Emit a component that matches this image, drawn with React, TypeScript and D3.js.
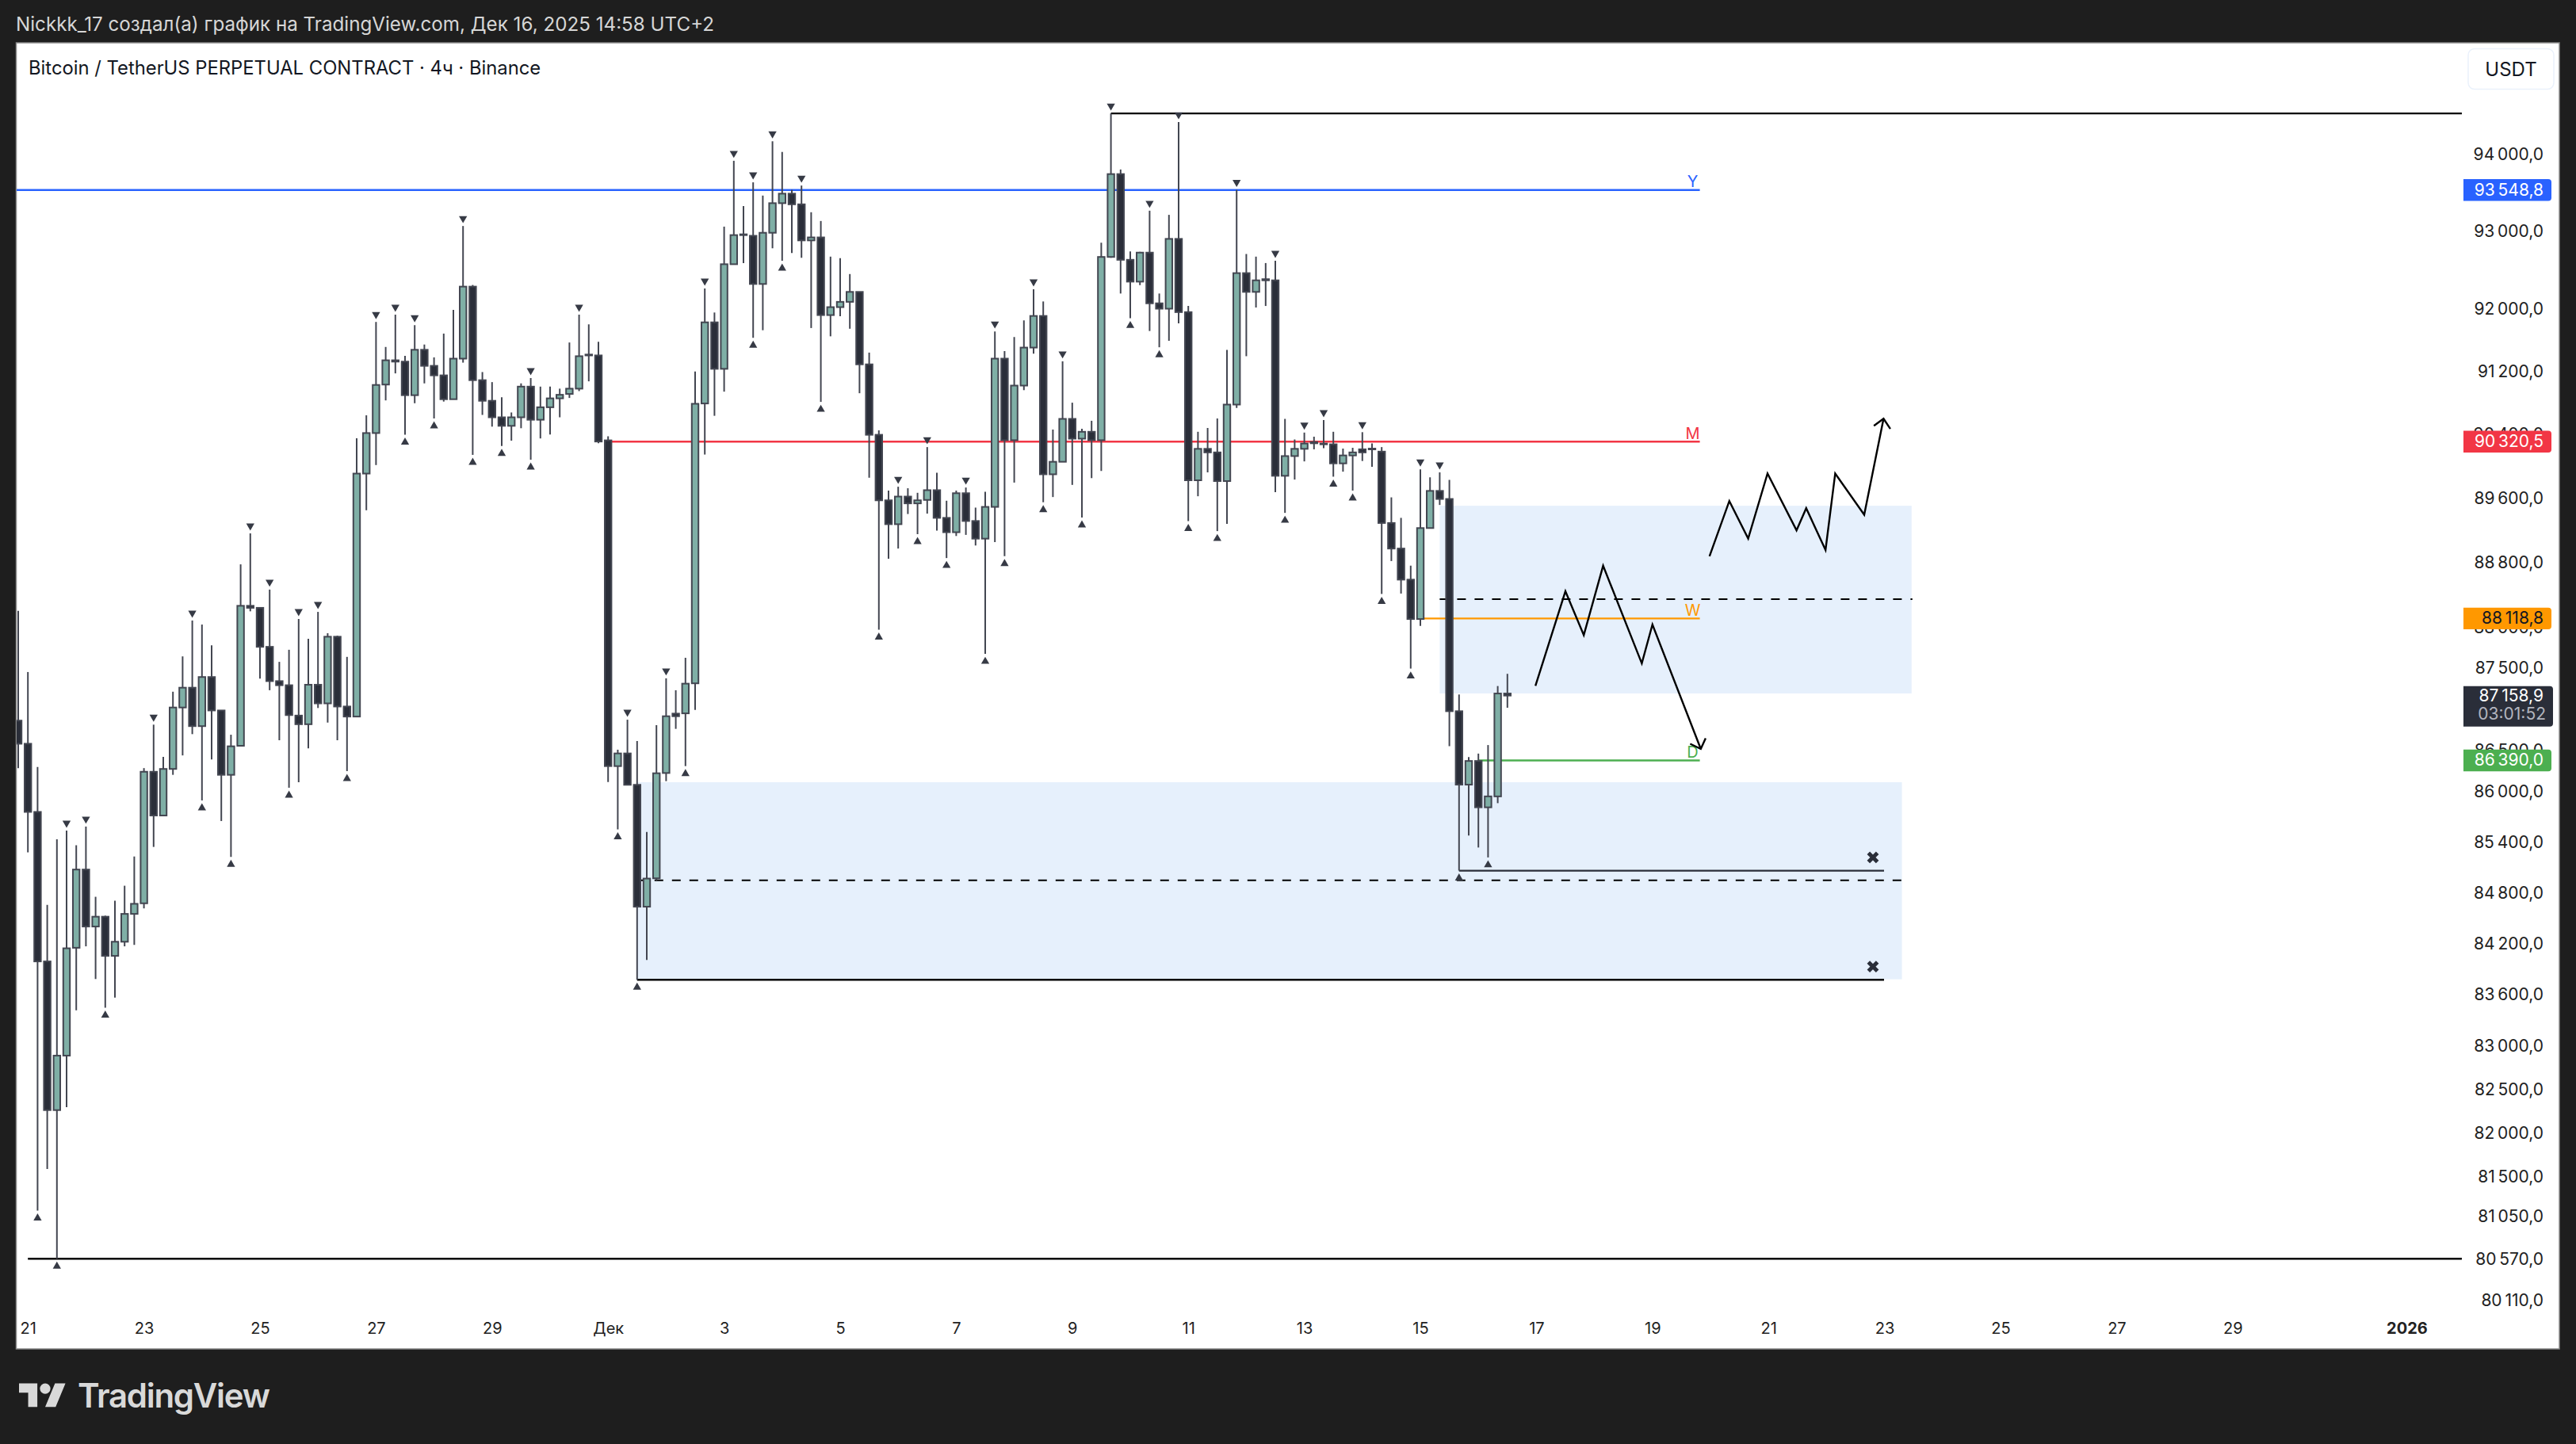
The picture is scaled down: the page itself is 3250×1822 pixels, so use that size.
import { axisBottom, axisLeft, formatLocale, line, scaleLinear, scaleLog, select, symbol, symbolTimes, symbolTriangle } from 'd3';
import React, { useEffect, useRef } from 'react';

const WIDTH = 3250;
const HEIGHT = 1822;
const FONT = 'Inter, Roboto, sans-serif';

// 4h candles, first one is the bar right before Nov 21 00:00
const firstBar = -1;
const opens = [
  86855, 86575, 85755, 83984, 82259, 82887, 84144, 85068, 84394, 84510, 84049, 84215, 84543, 84668, 86237, 85712,
  86271, 87014, 87255, 86788, 87385, 86978, 86200, 86550, 88258, 88233, 87754, 87335, 87285, 86916, 86811, 87291,
  87064, 87878, 87026, 86904, 89902, 90412, 91026, 91335, 91318, 90891, 91469, 91264, 91143, 90840, 91356, 92279,
  91082, 90820, 90611, 90503, 90611, 91000, 90580, 90738, 90851, 90907, 90974, 91408, 91397, 90320, 86305, 86458,
  86080, 84628, 84964, 86222, 86940, 86943, 87308, 90786, 91820, 91226, 92568, 92945, 92936, 92313, 92975, 93360,
  93484, 93345, 92876, 92915, 91913, 92015, 92083, 92211, 91283, 90390, 89567, 89269, 89614, 89529, 89572, 89694,
  89348, 89169, 89656, 89309, 89089, 89485, 91356, 90322, 91013, 91497, 91902, 89893, 90050, 90591, 90341, 90428,
  90322, 92662, 93740, 92625, 92343, 92718, 92064, 91995, 92896, 91951, 89818, 90213, 90168, 89808, 90772, 92453,
  92211, 92375, 92360, 89874, 90122, 90213, 90298, 90280, 90270, 90030, 90130, 90207, 90216, 90178, 89284, 88966,
  88581, 88095, 89221, 89685, 89584, 86969, 86082, 86367, 85810, 85941, 87184,
];
const highs = [
  88196, 87446, 86294, 84650, 85429, 85532, 85357, 85580, 84745, 84522, 84698, 84876, 85223, 86281, 86806, 86416,
  87206, 87637, 88077, 88027, 87773, 86978, 86684, 88770, 89155, 88233, 88458, 87570, 87718, 88096, 87853, 88183,
  87921, 87891, 87631, 90345, 90636, 91825, 91505, 91919, 91392, 91784, 91536, 91372, 91676, 91981, 93063, 92300,
  91185, 91057, 90866, 90672, 91041, 91109, 91000, 91000, 90974, 91562, 91919, 91794, 91572, 90370, 86503, 86866,
  86608, 85515, 86800, 87369, 87224, 87620, 91191, 92255, 91946, 93055, 93914, 93323, 93632, 93459, 94170, 94030,
  93535, 93590, 93242, 93128, 92666, 92646, 92441, 92211, 91433, 90446, 89689, 89737, 89718, 89661, 90235, 89912,
  89562, 89689, 89727, 89476, 89675, 91704, 91453, 91632, 91845, 92245, 92088, 90456, 91322, 90796, 90466, 90567,
  92847, 94537, 93800, 92733, 92728, 93262, 92190, 93208, 94422, 92031, 90428, 90476, 90596, 91468, 93535, 92700,
  92666, 92583, 92612, 90591, 90331, 90418, 90366, 90576, 90428, 90216, 90226, 90423, 90280, 90235, 89604, 89348,
  88754, 89954, 89855, 89917, 89822, 87172, 86414, 86456, 86559, 87275, 87424,
];
const lows = [
  86281, 85272, 81113, 81586, 80570, 82293, 83413, 84161, 83778, 83443, 83560, 84161, 84178, 84608, 85337, 85712,
  86200, 86434, 86691, 85893, 86386, 85646, 85218, 86550, 88190, 87366, 87224, 86617, 86045, 86111, 86519, 87008,
  86831, 86617, 86245, 86904, 89443, 90009, 90825, 91168, 90391, 90789, 91041, 90596, 90810, 90840, 91305, 90137,
  90641, 90493, 90248, 90316, 90473, 90076, 90344, 90394, 90611, 90856, 90943, 91067, 90283, 86114, 85546, 86080,
  83769, 84000, 84940, 86124, 86755, 86305, 86985, 90141, 90630, 90936, 92568, 92583, 91622, 91719, 92774, 92612,
  92714, 92651, 91747, 90806, 91641, 91898, 91738, 90916, 89850, 87964, 88839, 88966, 89396, 89145, 89401, 89188,
  88848, 89122, 89136, 89004, 87667, 89046, 88871, 89789, 90955, 91419, 89543, 89608, 90050, 89760, 89353, 89845,
  89935, 92651, 92190, 91874, 92298, 91709, 91501, 91584, 91806, 89307, 89618, 89917, 89183, 89272, 90729, 91387,
  92010, 92030, 89670, 89410, 89827, 90055, 90207, 90221, 89863, 89926, 89689, 90060, 89988, 88404, 88811, 88409,
  87488, 88011, 89221, 89509, 86545, 85055, 85473, 85330, 85212, 85860, 87011,
];
const closes = [
  86575, 85755, 83984, 82259, 82887, 84138, 85068, 84394, 84510, 84049, 84215, 84543, 84662, 86237, 85712, 86271,
  87014, 87255, 86788, 87385, 86978, 86200, 86544, 88258, 88233, 87754, 87335, 87285, 86922, 86811, 87291, 87064,
  87878, 87026, 86904, 89902, 90412, 91021, 91335, 91318, 90891, 91469, 91264, 91143, 90840, 91356, 92279, 91082,
  90820, 90611, 90503, 90611, 91000, 90580, 90738, 90851, 90896, 90974, 91387, 91397, 90305, 86305, 86458, 86080,
  84628, 84961, 86219, 86908, 86908, 87304, 90782, 91820, 91226, 92568, 92945, 92955, 92313, 92975, 93360, 93484,
  93345, 92876, 92915, 91913, 92015, 92083, 92211, 91283, 90390, 89567, 89269, 89614, 89529, 89567, 89694, 89348,
  89169, 89656, 89309, 89089, 89485, 91356, 90322, 91013, 91497, 91902, 89893, 90050, 90591, 90341, 90428, 90322,
  92662, 93740, 92625, 92343, 92718, 92064, 91995, 92896, 91951, 89818, 90213, 90168, 89808, 90772, 92453, 92211,
  92360, 92360, 89874, 90122, 90213, 90280, 90283, 90270, 90030, 90130, 90168, 90168, 90207, 89284, 88966, 88581,
  88095, 89221, 89685, 89584, 86969, 86082, 86367, 85810, 85941, 87184, 87159,
];

// fractal markers, by bar number
const highMarks = [4, 6, 13, 17, 23, 25, 28, 30, 36, 38, 40, 45, 52, 57, 62, 66, 70, 73, 75, 77, 80, 90, 93, 97, 100, 104, 107, 112, 116, 119, 125, 129, 132, 134, 138, 144, 146];
const lowMarks = [1, 3, 8, 18, 21, 27, 33, 39, 42, 46, 49, 52, 61, 63, 68, 75, 78, 82, 88, 92, 95, 99, 101, 105, 109, 114, 117, 120, 123, 130, 135, 137, 140, 143, 148, 151];

const priceTicks = [94000, 93000, 92000, 91200, 90400, 89600, 88800, 88000, 87500, 86500, 86000, 85400, 84800, 84200, 83600, 83000, 82500, 82000, 81500, 81050, 80570, 80110];
const timeTickBars = [0, 12, 24, 36, 48, 60, 72, 84, 96, 108, 120, 132, 144, 156, 168, 180, 192, 204, 216, 228, 246];
const timeTickLabels = ['21', '23', '25', '27', '29', 'Дек', '3', '5', '7', '9', '11', '13', '15', '17', '19', '21', '23', '25', '27', '29', '2026'];

// key levels: label, price, colour, first bar
const levelNames = ['Y', 'M', 'W', 'D'];
const levelPrices = [93548.8, 90320.5, 88118.8, 86390.0];
const levelColors = ['#2962ff', '#f23645', '#ff9800', '#4caf50'];
const levelStarts = [-2, 60, 144, 150];
const levelEnd = 172.9;
// price line labels sit a touch under the tick text centres
const levelShift = 1.7;

// drawn zones: [bar from, bar to, price top, price bottom, middle price]
const zoneUpper = [146, 194.8, 89499, 87185, 88340];
const zoneLower = [63, 193.8, 86111, 83775, 84941];

// horizontal trend lines: bar from, bar to, price
const trendFrom = [112, 0, 63, 148];
const trendTo = [251.7, 251.7, 191.95, 191.95];
const trendPrice = [94537, 80570, 83769, 85055];
const crossBars = [190.8, 190.8];
const crossPrices = [85212, 83923];

// hand drawn paths
const pathDownBars = [155.9, 159, 160.9, 162.9, 166.9, 168, 173];
const pathDownPrices = [87277, 88437, 87897, 88753, 87551, 88028, 86512];
const headDownBars = [171.9, 173, 173.5];
const headDownPrices = [86574, 86512, 86641];
const pathUpBars = [173.9, 175.95, 177.9, 179.9, 182.9, 183.9, 185.9, 186.9, 189.9, 191.9];
const pathUpPrices = [88870, 89558, 89090, 89903, 89193, 89468, 88948, 89903, 89387, 90594];
const headUpBars = [190.9, 191.9, 192.6];
const headUpPrices = [90504, 90594, 90464];

const lastPrice = 87158.9;
const countdown = '03:01:52';

const locale = formatLocale({ decimal: ',', thousands: '\u2009', grouping: [3], currency: ['', ''] });
const fmt = locale.format(',.1f');

const App = () => {
  const svgRef = useRef<SVGSVGElement | null>(null);

  useEffect(() => {
    const svg = select(svgRef.current);
    svg.selectAll('*').remove();

    const x = scaleLinear().domain([0, 60]).range([35.2, 767.2]);
    const y = scaleLog().domain([80110, 94000]).range([1640, 194.6]);
    const bars = opens.map((o, i) => ({ bar: i + firstBar, o, h: highs[i], l: lows[i], c: closes[i] }));

    // page
    svg.append('rect').attr('width', WIDTH).attr('height', HEIGHT).attr('fill', '#1e1e1e');
    svg.append('text').attr('x', 20).attr('y', 39).attr('fill', '#d6d6d6').attr('font-size', 24.2)
      .text('Nickkk_17 создал(а) график на TradingView.com, Дек 16, 2025 14:58 UTC+2');
    svg.append('rect').attr('x', 20.5).attr('y', 54).attr('width', 3208.5).attr('height', 1648)
      .attr('fill', '#fff').attr('stroke', '#8b8b8b').attr('stroke-width', 1.5);

    const defs = svg.append('defs');
    defs.append('clipPath').attr('id', 'plot').append('rect').attr('x', 21).attr('y', 55).attr('width', 3207).attr('height', 1646);
    const plot = svg.append('g').attr('clip-path', 'url(#plot)');

    // zones
    [zoneUpper, zoneLower].forEach(([a, b, top, bottom]) => {
      plot.append('rect').attr('x', x(a)).attr('width', x(b) - x(a))
        .attr('y', y(top)).attr('height', y(bottom) - y(top)).attr('fill', '#e6f0fc');
    });
    [zoneUpper, zoneLower].forEach(([a, b, , , mid]) => {
      plot.append('line').attr('x1', x(a)).attr('x2', x(b) + 1).attr('y1', y(mid)).attr('y2', y(mid))
        .attr('stroke', '#000').attr('stroke-width', 2).attr('stroke-dasharray', '11 11');
    });

    // levels
    levelPrices.forEach((p, i) => {
      const ly = y(p) + levelShift;
      plot.append('line').attr('x1', x(levelStarts[i])).attr('x2', x(levelEnd)).attr('y1', ly).attr('y2', ly)
        .attr('stroke', levelColors[i]).attr('stroke-width', 2.4);
      plot.append('text').attr('x', x(levelEnd) - 9).attr('y', ly - 3.5).attr('text-anchor', 'middle')
        .attr('fill', levelColors[i]).attr('font-size', 20).text(levelNames[i]);
    });

    // trend lines
    trendPrice.forEach((p, i) => {
      plot.append('line').attr('x1', x(trendFrom[i])).attr('x2', x(trendTo[i])).attr('y1', y(p)).attr('y2', y(p))
        .attr('stroke', i === 3 ? '#2a2e39' : '#000').attr('stroke-width', i === 3 ? 2.2 : 2.4);
    });

    // candles
    const wick = '#434651';
    const candle = plot.selectAll('g.candle').data(bars).join('g').attr('class', 'candle');
    candle.append('line')
      .attr('x1', (d) => x(d.bar)).attr('x2', (d) => x(d.bar))
      .attr('y1', (d) => y(d.h)).attr('y2', (d) => y(d.l))
      .attr('stroke', wick).attr('stroke-width', 2);
    candle.append('rect')
      .attr('x', (d) => x(d.bar) - 4.2).attr('width', 8.4)
      .attr('y', (d) => y(Math.max(d.o, d.c)))
      .attr('height', (d) => Math.max(y(Math.min(d.o, d.c)) - y(Math.max(d.o, d.c)), 1))
      .attr('fill', (d) => (d.c >= d.o ? '#7fafa6' : '#2a2e39'))
      .attr('stroke', wick).attr('stroke-width', 2);

    // fractal markers
    const tri = symbol().type(symbolTriangle).size(46);
    highMarks.forEach((b) => {
      plot.append('path').attr('d', tri())
        .attr('transform', `translate(${x(b)},${y(highs[b - firstBar]) - 9.5}) rotate(180)`).attr('fill', '#363a45');
    });
    lowMarks.forEach((b) => {
      plot.append('path').attr('d', tri())
        .attr('transform', `translate(${x(b)},${y(lows[b - firstBar]) + 9.5})`).attr('fill', '#363a45');
    });

    // crosses
    const cross = symbol().type(symbolTimes).size(85);
    crossBars.forEach((b, i) => {
      plot.append('path').attr('d', cross()).attr('transform', `translate(${x(b)},${y(crossPrices[i])})`)
        .attr('fill', 'none').attr('stroke', '#2a2e39').attr('stroke-width', 5);
    });

    // hand drawn arrows
    const pen = line<[number, number]>().x((d) => x(d[0])).y((d) => y(d[1]));
    const zip = (a: number[], b: number[]) => a.map((v, i): [number, number] => [v, b[i]]);
    [
      zip(pathDownBars, pathDownPrices),
      zip(headDownBars, headDownPrices),
      zip(pathUpBars, pathUpPrices),
      zip(headUpBars, headUpPrices),
    ].forEach((pts) => {
      plot.append('path').attr('d', pen(pts)).attr('fill', 'none').attr('stroke', '#000').attr('stroke-width', 2.4);
    });

    // axes
    const priceAxis = axisLeft(y).tickValues(priceTicks).tickSize(0).tickPadding(0).tickFormat((d) => fmt(d as number));
    const gy = svg.append('g').attr('transform', 'translate(3209,0.6)').call(priceAxis as any);
    gy.select('.domain').remove();
    gy.selectAll('text').attr('font-family', FONT).attr('font-size', 21).attr('fill', '#222');

    const timeAxis = axisBottom(x).tickValues(timeTickBars).tickSize(0).tickPadding(0)
      .tickFormat((d) => timeTickLabels[timeTickBars.indexOf(d as number)]);
    const gx = svg.append('g').attr('transform', 'translate(0,1669)').call(timeAxis as any);
    gx.select('.domain').remove();
    gx.selectAll('text').attr('font-family', FONT).attr('font-size', 20).attr('fill', '#222')
      .attr('font-weight', (d) => (d === 246 ? 700 : 400));

    // price badges
    const badge = (p: number, fill: string, color: string) => {
      const ly = y(p) + levelShift;
      const top = ly - 13.7;
      svg.append('path')
        .attr('d', `M3108,${top}H3215q4,0 4,4V${top + 23.4}q0,4 -4,4H3108Z`).attr('fill', fill);
      svg.append('text').attr('x', 3209).attr('y', ly + 7).attr('text-anchor', 'end')
        .attr('font-size', 21).attr('fill', color).text(fmt(p));
    };
    levelPrices.forEach((p, i) => badge(p, levelColors[i], i === 2 ? '#131722' : '#fff'));

    const lastY = y(lastPrice) + levelShift;
    svg.append('path').attr('d', `M3108,${lastY - 13.7}H3217q4,0 4,4V${lastY + 33.5}q0,4 -4,4H3108Z`).attr('fill', '#2a2e39');
    svg.append('text').attr('x', 3209).attr('y', lastY + 5.5).attr('text-anchor', 'end').attr('font-size', 21).attr('fill', '#fff').text(fmt(lastPrice));
    svg.append('text').attr('x', 3212).attr('y', lastY + 28.5).attr('text-anchor', 'end').attr('font-size', 21).attr('fill', '#b2b5be').text(countdown);

    // title + currency button
    svg.append('text').attr('x', 36).attr('y', 94).attr('fill', '#131722').attr('font-size', 23.8)
      .text('Bitcoin / TetherUS PERPETUAL CONTRACT · 4ч · Binance');
    svg.append('rect').attr('x', 3114).attr('y', 61.5).attr('width', 108).attr('height', 51).attr('rx', 8)
      .attr('fill', '#fff').attr('stroke', '#eaf1fb').attr('stroke-width', 1.5);
    svg.append('text').attr('x', 3168).attr('y', 95.5).attr('text-anchor', 'middle').attr('fill', '#131722').attr('font-size', 24).text('USDT');

    // logo
    const logo = svg.append('g').attr('transform', 'translate(24,1739) scale(1.65)').attr('fill', '#d9d9d9');
    logo.append('path').attr('d', 'M14 22H7V11H0V4h14v18zM28 22h-8l7.5-18h8L28 22z');
    logo.append('circle').attr('cx', 20).attr('cy', 8).attr('r', 4);
    svg.append('text').attr('x', 98).attr('y', 1776).attr('fill', '#d9d9d9').attr('font-size', 42)
      .attr('font-weight', 600).attr('letter-spacing', -1.3).text('TradingView');
  }, []);

  return (
    <svg
      ref={svgRef}
      width={WIDTH}
      height={HEIGHT}
      fontFamily={FONT}
      style={{ position: 'absolute', left: 0, top: 0, display: 'block' }}
    />
  );
};

export default App;
